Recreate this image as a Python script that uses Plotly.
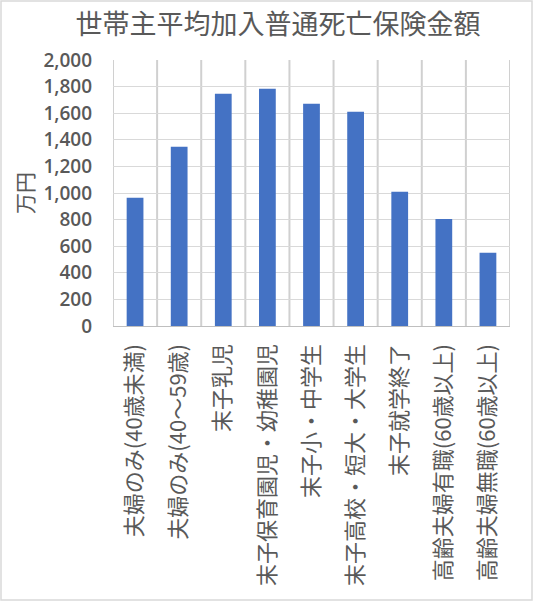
import plotly.graph_objects as go

categories = [
    "夫婦のみ(40歳未満)",
    "夫婦のみ(40～59歳)",
    "末子乳児",
    "末子保育園児・幼稚園児",
    "末子小・中学生",
    "末子高校・短大・大学生",
    "末子就学終了",
    "高齢夫婦有職(60歳以上)",
    "高齢夫婦無職(60歳以上)",
]
amounts = [965, 1347, 1746, 1784, 1671, 1611, 1009, 805, 550]
y_ticks = list(range(0, 2001, 200))

font_family = "Noto Sans CJK JP"
grey = "#595959"
grid = "#D9D9D9"

W, H = 533, 601
ml, mr, mt, mb = 113, 23, 60, 275
pw, ph = W - ml - mr, H - mt - mb

positions = list(range(len(categories)))
boundaries = [p - 0.5 for p in positions] + [positions[-1] + 0.5]

fig = go.Figure(
    go.Bar(
        x=positions,
        y=amounts,
        marker=dict(color="#4472C4", line=dict(width=0)),
        hovertext=categories,
    )
)

# vertical grid lines between the categories
shapes = [
    dict(
        type="line",
        xref="x",
        yref="paper",
        x0=b,
        x1=b,
        y0=0,
        y1=1,
        line=dict(color="#D0D0D0", width=2),
        layer="between",
    )
    for b in boundaries
]
# light frame around the whole chart
shapes.append(
    dict(
        type="rect",
        xref="paper",
        yref="paper",
        x0=-(ml - 1) / pw,
        x1=1 + (mr - 1) / pw,
        y0=-(mb - 1) / ph,
        y1=1 + (mt - 1) / ph,
        line=dict(color=grid, width=1.5),
        layer="below",
    )
)

fig.update_layout(
    width=W,
    height=H,
    margin=dict(l=ml, r=mr, t=mt, b=mb),
    paper_bgcolor="white",
    plot_bgcolor="white",
    bargap=0.62,
    showlegend=False,
    font=dict(family=font_family, color=grey),
    title=dict(
        text="世帯主平均加入普通死亡保険金額",
        x=278 / W,
        xanchor="center",
        y=1 - 25 / H,
        yanchor="middle",
        font=dict(size=27, color=grey),
    ),
    shapes=shapes,
)

fig.update_xaxes(
    range=[boundaries[0], boundaries[-1]],
    tickvals=positions,
    ticktext=categories,
    showgrid=False,
    zeroline=False,
    showline=True,
    linecolor="#BFBFBF",
    linewidth=1.3,
    ticks="",
    tickangle=-90,
    ticklabelstandoff=8,
    tickfont=dict(size=22, color=grey),
)

fig.update_yaxes(
    range=[0, 2000],
    tickvals=y_ticks,
    tickformat=",d",
    showgrid=True,
    gridcolor=grid,
    gridwidth=1.3,
    zeroline=False,
    ticks="",
    ticklabelstandoff=20,
    tickfont=dict(family="Open Sans", size=19, color=grey, weight=600),
    title=dict(text="万円", font=dict(size=21, color=grey), standoff=4),
)

fig.write_html(
    "out.html",
    config={"displayModeBar": False},
    post_script="document.body.style.margin='0';document.body.style.overflow='hidden';",
)
